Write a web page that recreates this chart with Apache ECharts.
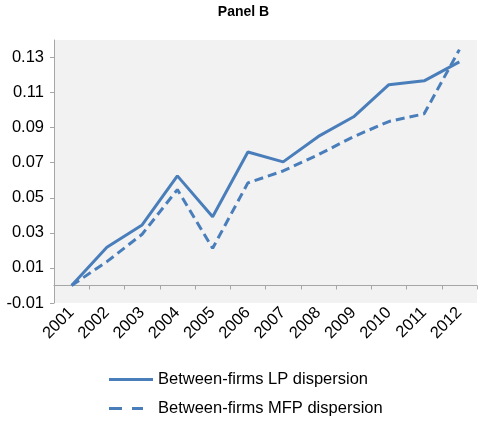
<!DOCTYPE html>
<html>
<head>
<meta charset="utf-8">
<script src="https://cdn.jsdelivr.net/npm/echarts@6/dist/echarts.min.js"></script>
<style>
html,body{margin:0;padding:0;background:#fff;}
#chart{width:487px;height:422px;}
</style>
</head>
<body>
<div id="chart"></div>
<script>
var years = ['2001','2002','2003','2004','2005','2006','2007','2008','2009','2010','2011','2012'];
var lpDispersion = [0.000, 0.0218, 0.0345, 0.0625, 0.0392, 0.0761, 0.0705, 0.0850, 0.0962, 0.1145, 0.1167, 0.1275];
var mfpDispersion = [0.000, 0.0136, 0.0292, 0.0547, 0.0212, 0.0585, 0.0653, 0.0746, 0.0849, 0.0935, 0.0979, 0.1345];
var seriesNames = ['Between-firms LP dispersion', 'Between-firms MFP dispersion'];

var blue = '#4a7ebb';
var font = 'Liberation Sans, Arial, sans-serif';
var chart = echarts.init(document.getElementById('chart'));
chart.setOption({
  animation: false,
  title: {
    text: 'Panel B',
    left: 'center',
    top: 0,
    textStyle: {fontFamily: font, fontSize: 14, fontWeight: 'bold', color: '#000'}
  },
  legend: {
    orient: 'vertical',
    left: 109,
    top: 371,
    padding: 0,
    itemWidth: 44,
    itemHeight: 3,
    itemGap: 12,
    symbolKeepAspect: false,
    textStyle: {fontFamily: font, fontSize: 16.5, color: '#000', lineHeight: 16},
    data: [
      {name: seriesNames[0], icon: 'path://M0,0 L44,0 L44,3 L0,3 Z', itemStyle: {color: blue}},
      {name: seriesNames[1], icon: 'path://M0,0 L13,0 L13,3 L0,3 Z M23,0 L34,0 L34,3 L23,3 Z M44,0 L44,3', itemStyle: {color: blue}}
    ]
  },
  grid: {
    left: 54, right: 10, top: 40, bottom: 119,
    show: true, backgroundColor: '#f2f2f2', borderWidth: 0
  },
  xAxis: [
    {
      type: 'category',
      data: years,
      boundaryGap: true,
      axisLine: {onZero: true, lineStyle: {color: '#a6a6a6', width: 1}},
      axisTick: {show: true, length: 4, lineStyle: {color: '#a6a6a6'}},
      axisLabel: {show: false},
      splitLine: {show: false}
    },
    {
      type: 'category',
      data: years,
      position: 'bottom',
      boundaryGap: true,
      axisLine: {show: false, onZero: false},
      axisTick: {show: false},
      axisLabel: {rotate: 45, margin: 7, fontFamily: font, fontSize: 16.5, color: '#000', interval: 0},
      splitLine: {show: false}
    }
  ],
  yAxis: {
    type: 'value',
    min: -0.01,
    max: 0.14,
    interval: 0.02,
    axisLine: {show: true, lineStyle: {color: '#a6a6a6', width: 1}},
    axisTick: {show: true, length: 4, lineStyle: {color: '#a6a6a6'}},
    axisLabel: {
      showMaxLabel: false,
      margin: 10,
      fontFamily: font, fontSize: 16.5, color: '#000',
      formatter: function (v) { return (Math.round(v * 100) / 100).toFixed(2); }
    },
    splitLine: {show: false}
  },
  series: [
    {
      name: seriesNames[0],
      type: 'line',
      xAxisIndex: 0,
      data: lpDispersion,
      symbol: 'none',
      lineStyle: {color: blue, width: 3, type: 'solid'},
      itemStyle: {color: blue}
    },
    {
      name: seriesNames[1],
      type: 'line',
      xAxisIndex: 0,
      data: mfpDispersion,
      symbol: 'none',
      lineStyle: {color: blue, width: 3, type: [9, 5]},
      itemStyle: {color: blue}
    }
  ]
});
</script>
</body>
</html>
